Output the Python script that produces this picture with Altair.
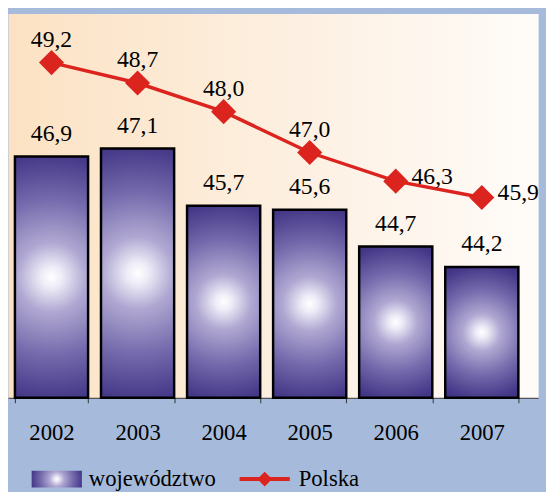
import altair as alt
import pandas as pd

years = ["2002", "2003", "2004", "2005", "2006", "2007"]
wojewodztwo = [46.9, 47.1, 45.7, 45.6, 44.7, 44.2]
polska = [49.2, 48.7, 48.0, 47.0, 46.3, 45.9]
series_names = ["województwo", "Polska"]

def pl(v):
    return f"{v:.1f}".replace(".", ",")

df = pd.DataFrame({
    "rok": years,
    "woj": wojewodztwo,
    "pol": polska,
    "woj_lbl": [pl(v) for v in wojewodztwo],
    "pol_lbl": [pl(v) for v in polska],
    "s_woj": [series_names[0]] * len(years),
    "s_pol": [series_names[1]] * len(years),
})

FONT = "Liberation Serif"
RED = "#dc241e"

bar_grad = {
    "gradient": "radial",
    "x1": 0.5, "y1": 0.5, "r1": 0,
    "x2": 0.5, "y2": 0.5, "r2": 0.72,
    "stops": [
        {"offset": 0.0, "color": "#ffffff"},
        {"offset": 0.06, "color": "#eeecf7"},
        {"offset": 0.2, "color": "#b0a8d2"},
        {"offset": 0.45, "color": "#756aac"},
        {"offset": 0.7, "color": "#463989"},
        {"offset": 1.0, "color": "#281866"},
    ],
}

view_grad_expr = (
    "{gradient: 'linear', x1: 0, y1: 0, x2: 1, y2: 0, "
    "stops: [{offset: 0, color: '#fce2c3'}, {offset: 0.55, color: '#fdf0e2'}, "
    "{offset: 1, color: '#fffcf9'}]}"
)

legend_grad_expr = (
    "{gradient: 'radial', x1: 0.5, y1: 0.5, r1: 0, x2: 0.5, y2: 0.5, r2: 0.6, "
    "stops: [{offset: 0, color: '#ffffff'}, {offset: 0.35, color: '#9a91c6'}, "
    "{offset: 1, color: '#2a1a68'}]}"
)

x_enc = alt.X(
    "rok:N",
    sort=years,
    scale=alt.Scale(paddingInner=0.15, paddingOuter=0.155, align=0.26),
    axis=alt.Axis(
        title=None, labelAngle=0, tickBand="extent", tickSize=5, labelPadding=19,
        domainColor="#333333", tickColor="#333333", labelFont=FONT,
        labelFontSize=23, labelColor="black", grid=False,
    ),
)
yscale = alt.Scale(domain=[41, 50.4], zero=False, nice=False, clamp=True)

base = alt.Chart(df)

bars = base.mark_bar(fill=bar_grad, stroke="black", strokeWidth=2.5).encode(
    x=x_enc,
    y=alt.Y("woj:Q", scale=yscale, axis=None),
    opacity=alt.Opacity(
        "s_woj:N",
        scale=alt.Scale(domain=[series_names[0]], range=[1]),
        legend=alt.Legend(
            orient="none", legendX=21, legendY=461, title=None, padding=0,
            symbolType="M-1,-1H5V1H-1Z", symbolSize=289,
            symbolFillColor={"expr": legend_grad_expr},
            symbolStrokeColor="black", symbolStrokeWidth=2, symbolOpacity=1,
            labelFont=FONT, labelFontSize=23, labelColor="black", labelOffset=38,
        ),
    ),
)

line = base.mark_line(color=RED, strokeWidth=3.5).encode(
    x=x_enc, y=alt.Y("pol:Q", scale=yscale, axis=None)
)

points = base.mark_point(shape="diamond", filled=True, color=RED, size=650).encode(
    x=x_enc,
    y=alt.Y("pol:Q", scale=yscale, axis=None),
    opacity=alt.Opacity(
        "s_pol:N",
        scale=alt.Scale(domain=[series_names[1]], range=[1]),
        legend=alt.Legend(
            orient="none", legendX=231, legendY=461, title=None, padding=0,
            symbolType="M-1,-0.27H5.8V0.27H-1Z M1.4,0L2.4,-1L3.4,0L2.4,1Z",
            symbolSize=225, symbolFillColor="#ee1111", symbolStrokeColor="#ee1111",
            symbolStrokeWidth=0, symbolOpacity=1,
            labelFont=FONT, labelFontSize=23, labelColor="black", labelOffset=41,
        ),
    ),
)

bar_text = base.mark_text(
    font=FONT, fontSize=24, baseline="middle", dy=-23, color="black"
).encode(x=x_enc, y=alt.Y("woj:Q", scale=yscale, axis=None), text="woj_lbl:N")

pol_text_a = base.transform_filter(
    alt.FieldOneOfPredicate(field="rok", oneOf=years[:4])
).mark_text(
    font=FONT, fontSize=24, baseline="middle", dy=-23, color="black"
).encode(x=x_enc, y=alt.Y("pol:Q", scale=yscale, axis=None), text="pol_lbl:N")

pol_text_b = base.transform_filter(
    alt.FieldOneOfPredicate(field="rok", oneOf=years[4:])
).mark_text(
    font=FONT, fontSize=24, baseline="middle", dx=37, dy=-4, color="black"
).encode(x=x_enc, y=alt.Y("pol:Q", scale=yscale, axis=None), text="pol_lbl:N")

chart = alt.layer(
    bars, line, points, bar_text, pol_text_a, pol_text_b
).resolve_scale(
    opacity="independent"
).resolve_legend(
    opacity="independent"
).properties(
    width=538, height=390,
    autosize=alt.AutoSizeParams(type="none"),
    padding={"left": 0, "top": 2, "right": 8, "bottom": 92},
    background="#a6bbdb",
).configure_view(
    fill={"expr": view_grad_expr}, stroke="transparent"
)

chart.save("out.html", embed_options={"renderer": "svg", "actions": False})
